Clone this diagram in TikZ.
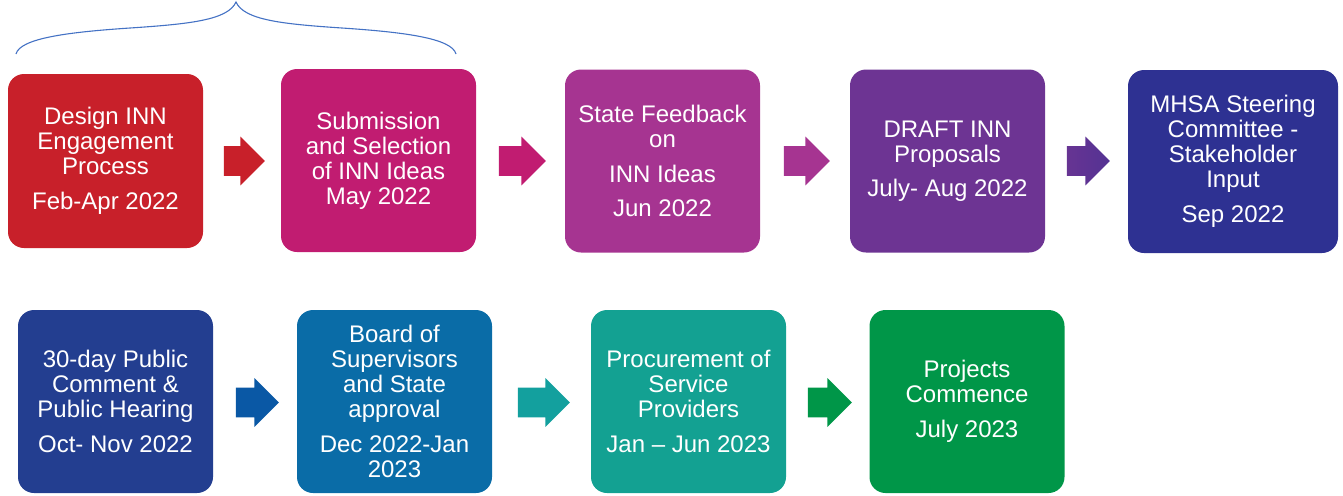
\documentclass[tikz,border=0pt]{standalone}
\usepackage{fontspec}
\setmainfont{Liberation Sans}
\usetikzlibrary{shapes.arrows,calc}
\definecolor{cRed}{HTML}{C8202A}
\definecolor{cMag}{HTML}{C11C71}
\definecolor{cPlum}{HTML}{A63491}
\definecolor{cViolet}{HTML}{6D3493}
\definecolor{cNavy}{HTML}{2E3192}
\definecolor{cDark}{HTML}{233E90}
\definecolor{cBlue}{HTML}{0A6CA7}
\definecolor{cArrBlue}{HTML}{0A58A5}
\definecolor{cTeal}{HTML}{13A192}
\definecolor{cArrTeal}{HTML}{13A09E}
\definecolor{cGreen}{HTML}{009648}
\definecolor{cBrace}{HTML}{4472C4}
\begin{document}
\begin{tikzpicture}[x=0.5pt,y=-0.5pt,font=\fontsize{12}{12.5}\selectfont,
	stage/.style={rounded corners=8pt,minimum width=97.5pt,minimum height=91.5pt,inner sep=0pt,text=white,align=center},
	arw/.style={single arrow,anchor=tail,minimum height=22.5pt,text height=14.5pt,text depth=0pt,single arrow head extend=4.75pt,inner sep=0pt},
	brace/.style={cBrace,line width=0.55pt}]
			\useasboundingbox (0,0) rectangle (1343,495);
			\def\gap{4.75pt}
			\draw[brace] (16,54) .. controls (20,38) and (70,32) .. (130,28) .. controls (190,24) and (228,20) .. (236,2)
			.. controls (244,20) and (282,24) .. (342,28) .. controls (402,32) and (452,38) .. (456,54);
			\node[stage,fill=cRed,minimum height=87pt] (d1) at (105.5,161) {Design INN\\Engagement\\Process\\[\gap]Feb-Apr 2022};
			\node[stage,fill=cMag] (d2) at (378.5,160.5) {Submission\\and Selection\\of INN Ideas\\May 2022};
			\node[stage,fill=cPlum] (d3) at (662.5,161) {State Feedback\\on\\[\gap]INN Ideas\\[\gap]Jun 2022};
			\node[stage,fill=cViolet] (d4) at (947.5,161) {DRAFT INN\\Proposals\\[\gap]July- Aug 2022};
			\node[stage,fill=cNavy,minimum width=105pt] (d5) at (1233,161.5) {MHSA Steering\\Committee -\\Stakeholder\\Input\\[\gap]Sep 2022};
			\node[stage,fill=cDark] (d6) at (115.5,401.5) {30-day Public\\Comment \&\\Public Hearing\\[\gap]Oct- Nov 2022};
			\node[stage,fill=cBlue] (d7) at (394.5,401.5) {Board of\\Supervisors\\and State\\approval\\[\gap]Dec 2022-Jan\\2023};
			\node[stage,fill=cTeal] (d8) at (688.5,401.5) {Procurement of\\Service\\Providers\\[\gap]Jan – Jun 2023};
			\node[stage,fill=cGreen] (d9) at (967,401.5) {Projects\\Commence\\[\gap]July 2023};
			\node[arw,fill=cRed,minimum height=20.5pt] (a12) at ($(d1.east)+(20,0)$) {};
			\node[arw,fill=cMag,minimum height=23.5pt] (a23) at ($(d2.east)+(22,0.5)$) {};
			\node[arw,fill=cPlum,minimum height=23pt] (a34) at ($(d3.east)+(23,0)$) {};
			\node[arw,left color=cViolet!90!cNavy,right color=cViolet!60!cNavy,minimum height=21.5pt] (a45) at ($(d4.east)+(21,0)$) {};
			\node[arw,fill=cArrBlue,minimum height=21.5pt] (a67) at ($(d6.east)+(22,1)$) {};
			\node[arw,fill=cArrTeal,minimum height=26pt] (a78) at ($(d7.east)+(25,1)$) {};
			\node[arw,fill=cGreen,minimum height=22pt] (a89) at ($(d8.east)+(21,1)$) {};
\end{tikzpicture}
\end{document}
